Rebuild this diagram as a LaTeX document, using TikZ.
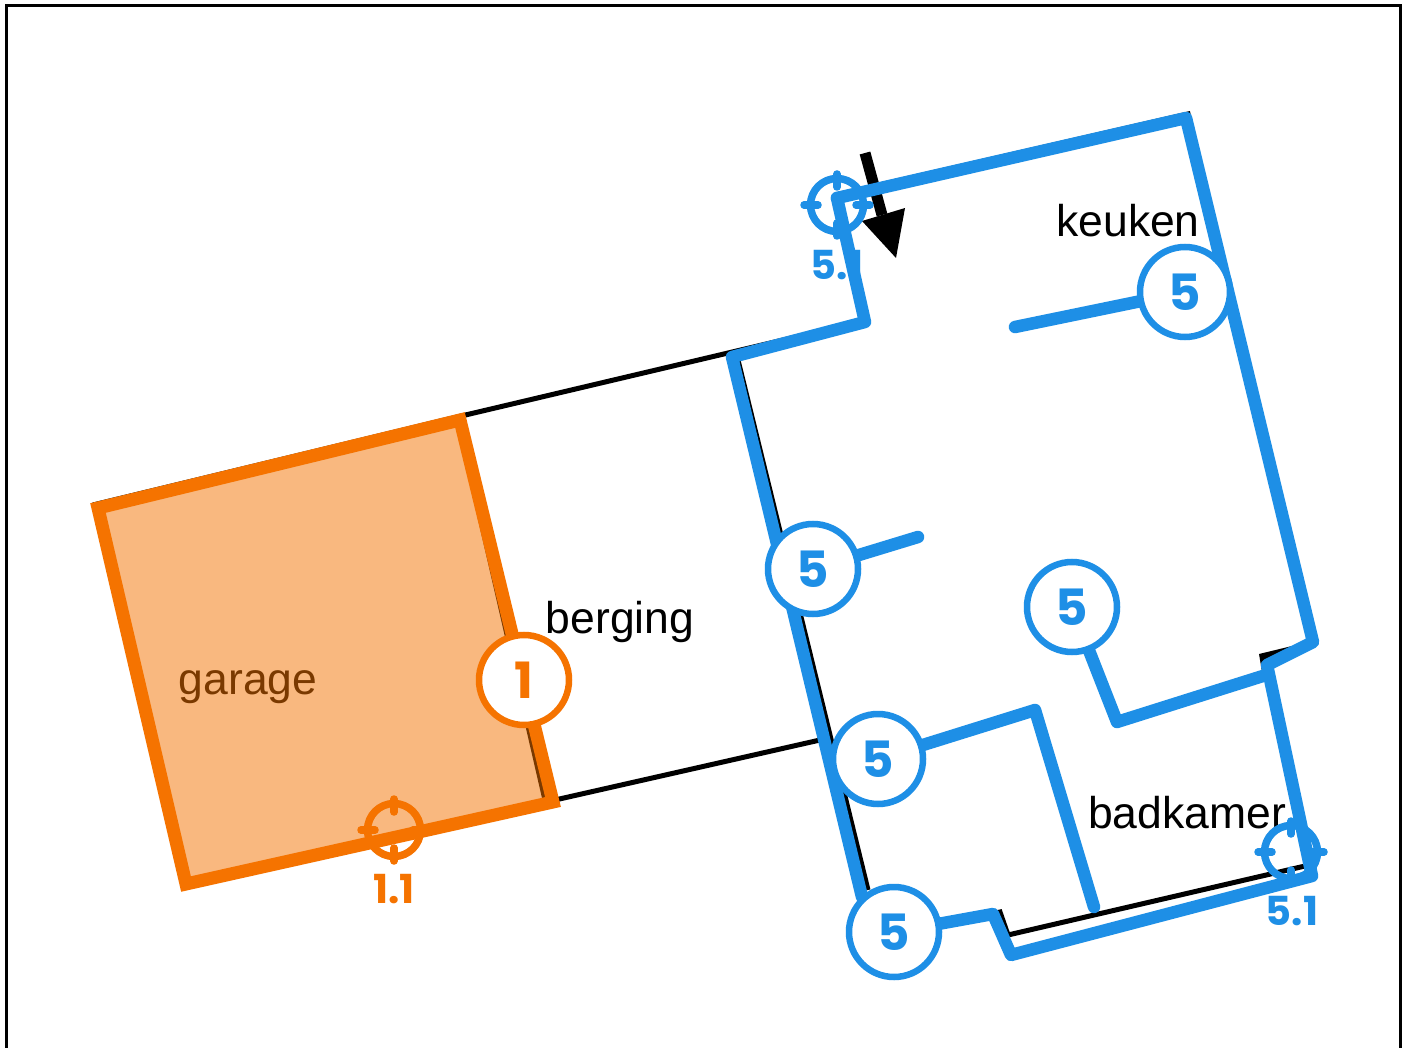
\documentclass[tikz,border=0pt]{standalone}
\usepackage{fontspec}
\setmainfont{Liberation Sans}
\newfontfamily\numfont{Poppins}[UprightFont=* Bold]
\definecolor{wallblue}{HTML}{1E8FE6}
\definecolor{wallorange}{HTML}{F57300}
\tikzset{
  planline/.style={draw=black,line width=5pt,line join=miter},
  bluewall/.style={draw=wallblue,line width=12.5pt,line join=round,line cap=round},
  roomlabel/.style={font=\fontsize{44.5}{48}\selectfont,text=black,inner sep=0pt},
  numbadge/.style={circle,draw=#1,fill=white,line width=6.5pt,minimum size=90pt,inner sep=0pt,text=#1,font=\numfont\fontsize{50}{54}\selectfont},
  fixlabel/.style={text=#1,inner sep=0pt,font=\numfont\fontsize{40}{42}\selectfont},
  fixring/.style={draw=#1,line width=7.5pt,line cap=round},
}
\newcommand{\fixpoint}[3]{%
  \draw[fixring=#1] (#2,#3) circle (26.5pt);
  \draw[fixring=#1] (#2-33,#3) -- (#2-19,#3);
  \draw[fixring=#1] (#2+19,#3) -- (#2+33,#3);
  \draw[fixring=#1] (#2,#3-31) -- (#2,#3-18);
  \draw[fixring=#1] (#2,#3+18) -- (#2,#3+31);
}
\begin{document}
\begin{tikzpicture}[x=1pt,y=-1pt]
\useasboundingbox (0,0) rectangle (1405,1048);
\fill[white] (0,0) rectangle (1405,1048);
\draw[black,line width=3pt] (6,1070) -- (6,6) -- (1400,6) -- (1400,1070);
% plan underneath
\draw[planline] (93,505) -- (457,417) -- (800,336);
\draw[planline] (836,195) -- (1188,114) -- (1215,240);
\draw[planline] (96,506) -- (187,885) -- (555,800) -- (820,740);
\draw[planline] (457,417) -- (545,800);
\draw[planline] (737,356) -- (868,890);
\fill[black] (1259,654) -- (1292,646) -- (1262,672) -- cycle;
\draw[planline] (1305,866) -- (1008,935) -- (1000,912) -- (930,927);
% arrow
\draw[black,line width=11pt] (865,153) -- (882,215);
\fill[black] (905,208) -- (862,221) -- (896,258) -- cycle;
% labels
\node[roomlabel] (keuken) at (1128,221) {keuken};
\node[roomlabel] (berging) at (620,622) {berging};
\node[roomlabel] (garage) at (248,687) {garage};
\node[roomlabel] (badkamer) at (1187,813) {badkamer};
% garage area
\path[fill=wallorange,fill opacity=.5] (98,508) -- (460,420) -- (553,802) -- (186,884) -- cycle;
\draw[draw=wallorange,line width=13pt,line join=miter] (98,508) -- (460,420) -- (553,802) -- (186,884) -- cycle;
% fix labels and rings
\node[fixlabel=wallblue] (lblA) at (837,265) {5.1};
\node[fixlabel=wallblue] (lblB) at (1292,911) {5.1};
\node[fixlabel=wallorange] (lblC) at (394,889) {1.1};
\fixpoint{wallblue}{837}{205}
\fixpoint{wallblue}{1291}{852}
\fixpoint{wallorange}{394}{830}
% named badge positions
\coordinate (b1) at (1185,292);
\coordinate (b2) at (813,569);
\coordinate (b3) at (1072,607);
\coordinate (b4) at (878,759);
\coordinate (b5) at (894,932);
\coordinate (o1) at (524,680);
% walls
\draw[bluewall] (837,198) -- (1186,118) -- (1313,642) -- (1267,665) -- (1312,876) -- (1011,955) -- (993,914) -- (b5);
\draw[bluewall] (1266,675) -- (1117,722) -- (b3);
\draw[bluewall] (837,198) -- (865,322) -- (732,357) -- (862,897);
\draw[bluewall] (1015,327) -- (b1);
\draw[bluewall] (918,537) -- (b2);
\draw[bluewall] (b4) -- (1035,710) -- (1094,907);
% badges
\node[numbadge=wallblue] (n1) at (b1) {5};
\node[numbadge=wallblue] (n2) at (b2) {5};
\node[numbadge=wallblue] (n3) at (b3) {5};
\node[numbadge=wallblue] (n4) at (b4) {5};
\node[numbadge=wallblue] (n5) at (b5) {5};
\node[numbadge=wallorange] (n6) at (o1) {1};
\end{tikzpicture}
\end{document}
